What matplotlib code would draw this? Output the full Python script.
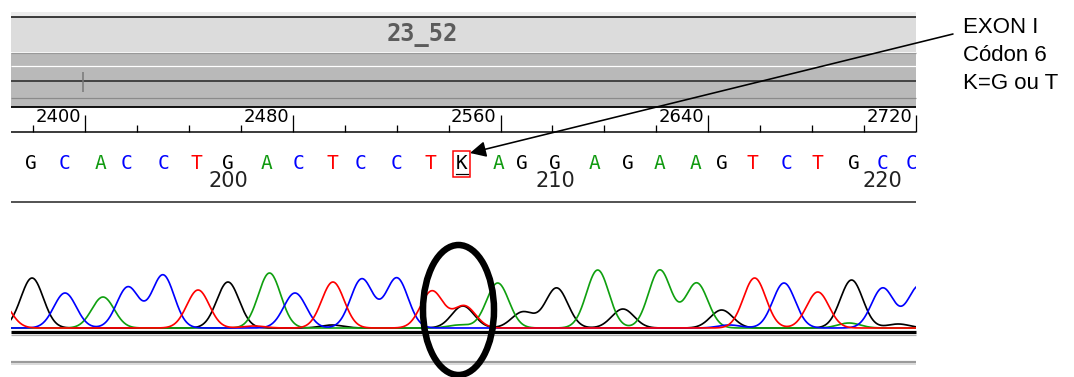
import matplotlib
matplotlib.use("Agg")
import matplotlib.pyplot as plt
import matplotlib.patches as mpatches
import matplotlib.transforms as mtransforms
import numpy as np

W, H = 1074, 377

# called bases, first base is number 194
bases = list("GCACCTGACTCCTKAGGAGAAGTCTGCC")
base_scan = [2379, 2392, 2406, 2416, 2430, 2443, 2455, 2470, 2482, 2495,
             2506, 2520, 2533, 2545, 2559, 2568, 2581, 2596, 2609, 2621,
             2635, 2645, 2657, 2670, 2682, 2696, 2707, 2718]
first_base = 194
ruler_major = [2400, 2480, 2560, 2640, 2720]
ruler_minor = list(range(2380, 2721, 20))
sample_name = "23_52"

# trace peaks per dye: scan position and height
g_pos = [2379.6, 2455, 2495, 2545.4, 2568.5, 2581.5, 2607, 2645, 2695, 2713]
g_hgt = [50, 46, 3, 22, 16, 40, 19, 18, 48, 4]
c_pos = [2392.3, 2416.5, 2430, 2480.8, 2506.5, 2520, 2648, 2669, 2707, 2721]
c_hgt = [35, 41, 53, 35, 49, 50, 3, 45, 40, 42]
a_pos = [2406.9, 2471, 2544, 2558.8, 2597.3, 2621.2, 2635.4, 2694]
a_hgt = [31, 55, 3, 45, 58, 58, 45, 5]
t_pos = [2367, 2443.5, 2465, 2495.4, 2533.5, 2546, 2657.7, 2682]
t_hgt = [28, 38, 2, 46, 37, 22, 50, 36]

base_colors = {"G": "black", "C": "#0000ff", "A": "#109a10", "T": "#ff0000", "K": "black"}
XL = (2371.5, 2719.8)

fig = plt.figure(figsize=(W / 100, H / 100), dpi=100)


def px_axes(x0, y0, x1, y1, **kw):
    return fig.add_axes([x0 / W, 1 - y1 / H, (x1 - x0) / W, (y1 - y0) / H], **kw)


def lw(px):
    return px * 0.72


# background frame of the viewer, in pixel coordinates
bg = px_axes(0, 0, W, H)
bg.set_xlim(0, W)
bg.set_ylim(H, 0)
bg.axis("off")
L, R = 11, 916
bg.add_patch(mpatches.Rectangle((L, 12), R - L, 4, color="#ececec", lw=0))
bg.add_patch(mpatches.Rectangle((L, 17), R - L, 35, color="#dcdcdc", lw=0))
bg.add_patch(mpatches.Rectangle((L, 53), R - L, 54, color="#b9b9b9", lw=0))
bg.hlines(16.5, L, R, color="#2a2a2a", lw=lw(1.8))
bg.hlines(52.5, L, R, color="#999999", lw=lw(1.2))
bg.hlines(66, L, R, color="white", lw=lw(1.2))
bg.hlines(81, L, R, color="#3a3a3a", lw=lw(1.8))
bg.hlines(98, L, R, color="#8a8a8a", lw=lw(1.2))
bg.vlines(83, 72, 92, color="#777777", lw=lw(1.5))
bg.hlines(107, L, R, color="black", lw=lw(1.8))
bg.hlines(132, L, R, color="black", lw=lw(1.5))
bg.hlines(202, L, R, color="#444444", lw=lw(1.8))
bg.hlines(331.5, L, R, color="black", lw=lw(3.2))
bg.hlines(334.5, L, R, color="#b0b0b0", lw=lw(1.2))
bg.hlines(361.5, L, R, color="#9a9a9a", lw=lw(2.2))
bg.hlines(364, L, R, color="#dadada", lw=lw(2))
bg.text(422, 35, sample_name, ha="center", va="center",
        fontsize=17, family="DejaVu Sans Mono", fontweight="bold", color="#5c5c5c")

# ruler (scan numbers)
ax_r = px_axes(L, 108, R, 132, facecolor="none")
ax_r.set_xlim(*XL)
ax_r.set_ylim(0, 1)
for s in ax_r.spines.values():
    s.set_visible(False)
ax_r.set_yticks([])
ax_r.set_xticks(ruler_major)
ax_r.set_xticks(ruler_minor, minor=True)
ax_r.set_xticklabels([])
ax_r.tick_params(axis="x", which="major", direction="in", length=lw(17), width=lw(1.3), color="black")
ax_r.tick_params(axis="x", which="minor", direction="in", length=lw(7), width=lw(1.3), color="black")
lab_tr = mtransforms.offset_copy(ax_r.get_xaxis_transform(), fig=fig, x=-4, y=0, units="dots")
for v in ruler_major:
    ax_r.text(v, 0.62, str(v), transform=lab_tr, ha="right", va="center",
              fontsize=13, family="DejaVu Sans", color="black")

# called bases
ax_s = px_axes(L, 133, R, 201, facecolor="none")
ax_s.set_xlim(*XL)
ax_s.set_ylim(0, 1)
ax_s.axis("off")
for i, (b, x) in enumerate(zip(bases, base_scan)):
    ax_s.text(x, 0.55, b, ha="center", va="center", fontsize=14,
              family="DejaVu Sans Mono", color=base_colors[b], clip_on=True)
    n = first_base + i
    if n % 10 == 0:
        ax_s.text(x, 0.29, str(n), ha="center", va="center", fontsize=15,
                  family="DejaVu Sans", color="#222222")
    if b == "K":
        ax_s.add_patch(mpatches.Rectangle((x - 3.3, 0.35), 6.6, 0.38, fill=False,
                                          ec="#ff0000", lw=lw(1.5)))
        ax_s.plot([x - 2.2, x + 2.2], [0.40, 0.40], color="black", lw=lw(1.2))

# chromatogram traces
ax_t = px_axes(L, 203, R, 330, facecolor="none")
ax_t.set_xlim(*XL)
ax_t.set_ylim(-2, 125)
ax_t.axis("off")
scan = np.linspace(XL[0], XL[1], 2000)
sigma = 4.3


def trace(pos, hgt):
    y = np.zeros_like(scan)
    for p, h in zip(pos, hgt):
        y += h * np.exp(-0.5 * ((scan - p) / sigma) ** 2)
    return y


for pos, hgt, col in [(g_pos, g_hgt, "black"), (a_pos, a_hgt, "#10a010"),
                      (c_pos, c_hgt, "#0000ff"), (t_pos, t_hgt, "#ff0000")]:
    ax_t.plot(scan, trace(pos, hgt), color=col, lw=lw(1.7))

# annotation layer
ov = px_axes(0, 0, W, H, facecolor="none")
ov.set_xlim(0, W)
ov.set_ylim(H, 0)
ov.axis("off")
ov.add_patch(mpatches.Ellipse((458.5, 310), 71, 130, fill=False, ec="black", lw=lw(6.5)))
ov.annotate("", xy=(470, 153), xytext=(953, 34),
            arrowprops=dict(arrowstyle="-|>", color="black", lw=lw(1.6),
                            mutation_scale=24, shrinkA=0, shrinkB=0))
for txt, yb in [("EXON I", 33), ("Códon 6", 61), ("K=G ou T", 89)]:
    ov.text(963, yb, txt, ha="left", va="baseline", fontsize=16,
            family="Liberation Sans", color="black")

fig.savefig("out.png", dpi=100)
